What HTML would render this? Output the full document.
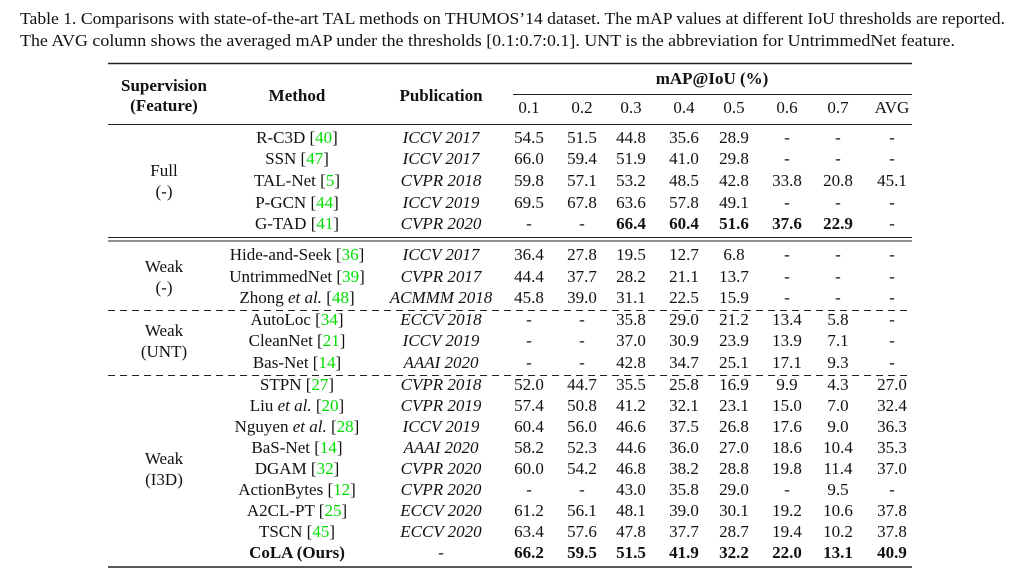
<!DOCTYPE html>
<html><head><meta charset="utf-8"><style>
html,body{margin:0;padding:0;background:#fff}
svg{display:block}
text{font-family:"Liberation Serif",serif;font-size:17px;fill:#111}
.b{font-weight:bold}
.i{font-style:italic}
.g{fill:#00dd00}
</style></head><body>
<svg width="1024" height="585" viewBox="0 0 1024 585" xmlns="http://www.w3.org/2000/svg">
<text x="20" y="24" style="font-size:17px" textLength="985" lengthAdjust="spacingAndGlyphs">Table 1. Comparisons with state-of-the-art TAL methods on THUMOS’14 dataset. The mAP values at different IoU thresholds are reported.</text>
<text x="20" y="46" style="font-size:17px" textLength="935" lengthAdjust="spacingAndGlyphs">The AVG column shows the averaged mAP under the thresholds [0.1:0.7:0.1]. UNT is the abbreviation for UntrimmedNet feature.</text>

<g stroke="#222" fill="none">
<line x1="108" y1="63.5" x2="912" y2="63.5" stroke-width="1.6"/>
<line x1="513" y1="94.5" x2="912" y2="94.5" stroke-width="1"/>
<line x1="108" y1="124.5" x2="912" y2="124.5" stroke-width="1"/>
<line x1="108" y1="237.5" x2="912" y2="237.5" stroke-width="1"/>
<line x1="108" y1="241" x2="912" y2="241" stroke-width="1"/>
<line x1="108" y1="310.5" x2="912" y2="310.5" stroke-width="1" stroke-dasharray="7,5"/>
<line x1="108" y1="375.5" x2="912" y2="375.5" stroke-width="1" stroke-dasharray="7,5"/>
<line x1="108" y1="567" x2="912" y2="567" stroke-width="1.6"/>
</g>

<g text-anchor="middle">
<text class="b" x="164" y="91">Supervision</text>
<text class="b" x="164" y="111">(Feature)</text>
<text class="b" x="297" y="101">Method</text>
<text class="b" x="441" y="101">Publication</text>
<text class="b" x="712" y="84">mAP@IoU (%)</text>
<text x="529" y="113">0.1</text><text x="582" y="113">0.2</text><text x="631" y="113">0.3</text><text x="684" y="113">0.4</text><text x="734" y="113">0.5</text><text x="787" y="113">0.6</text><text x="838" y="113">0.7</text><text x="892" y="113">AVG</text>

<text x="164" y="176">Full</text><text x="164" y="197">(-)</text>
<text x="164" y="272">Weak</text><text x="164" y="293">(-)</text>
<text x="164" y="336">Weak</text><text x="164" y="357">(UNT)</text>
<text x="164" y="464">Weak</text><text x="164" y="485">(I3D)</text>
</g>

<g text-anchor="middle">
<text x="297" y="143">R-C3D [<tspan class="g">40</tspan>]</text><text class="i" x="441" y="143">ICCV 2017</text>
<text x="529" y="143">54.5</text><text x="582" y="143">51.5</text><text x="631" y="143">44.8</text><text x="684" y="143">35.6</text><text x="734" y="143">28.9</text><text x="787" y="143">-</text><text x="838" y="143">-</text><text x="892" y="143">-</text>

<text x="297" y="164">SSN [<tspan class="g">47</tspan>]</text><text class="i" x="441" y="164">ICCV 2017</text>
<text x="529" y="164">66.0</text><text x="582" y="164">59.4</text><text x="631" y="164">51.9</text><text x="684" y="164">41.0</text><text x="734" y="164">29.8</text><text x="787" y="164">-</text><text x="838" y="164">-</text><text x="892" y="164">-</text>

<text x="297" y="186">TAL-Net [<tspan class="g">5</tspan>]</text><text class="i" x="441" y="186">CVPR 2018</text>
<text x="529" y="186">59.8</text><text x="582" y="186">57.1</text><text x="631" y="186">53.2</text><text x="684" y="186">48.5</text><text x="734" y="186">42.8</text><text x="787" y="186">33.8</text><text x="838" y="186">20.8</text><text x="892" y="186">45.1</text>

<text x="297" y="208">P-GCN [<tspan class="g">44</tspan>]</text><text class="i" x="441" y="208">ICCV 2019</text>
<text x="529" y="208">69.5</text><text x="582" y="208">67.8</text><text x="631" y="208">63.6</text><text x="684" y="208">57.8</text><text x="734" y="208">49.1</text><text x="787" y="208">-</text><text x="838" y="208">-</text><text x="892" y="208">-</text>

<text x="297" y="229">G-TAD [<tspan class="g">41</tspan>]</text><text class="i" x="441" y="229">CVPR 2020</text>
<text x="529" y="229">-</text><text x="582" y="229">-</text><text class="b" x="631" y="229">66.4</text><text class="b" x="684" y="229">60.4</text><text class="b" x="734" y="229">51.6</text><text class="b" x="787" y="229">37.6</text><text class="b" x="838" y="229">22.9</text><text x="892" y="229">-</text>

<text x="297" y="260">Hide-and-Seek [<tspan class="g">36</tspan>]</text><text class="i" x="441" y="260">ICCV 2017</text>
<text x="529" y="260">36.4</text><text x="582" y="260">27.8</text><text x="631" y="260">19.5</text><text x="684" y="260">12.7</text><text x="734" y="260">6.8</text><text x="787" y="260">-</text><text x="838" y="260">-</text><text x="892" y="260">-</text>

<text x="297" y="282">UntrimmedNet [<tspan class="g">39</tspan>]</text><text class="i" x="441" y="282">CVPR 2017</text>
<text x="529" y="282">44.4</text><text x="582" y="282">37.7</text><text x="631" y="282">28.2</text><text x="684" y="282">21.1</text><text x="734" y="282">13.7</text><text x="787" y="282">-</text><text x="838" y="282">-</text><text x="892" y="282">-</text>

<text x="297" y="303">Zhong <tspan class="i">et al.</tspan> [<tspan class="g">48</tspan>]</text><text class="i" x="441" y="303">ACMMM 2018</text>
<text x="529" y="303">45.8</text><text x="582" y="303">39.0</text><text x="631" y="303">31.1</text><text x="684" y="303">22.5</text><text x="734" y="303">15.9</text><text x="787" y="303">-</text><text x="838" y="303">-</text><text x="892" y="303">-</text>

<text x="297" y="325">AutoLoc [<tspan class="g">34</tspan>]</text><text class="i" x="441" y="325">ECCV 2018</text>
<text x="529" y="325">-</text><text x="582" y="325">-</text><text x="631" y="325">35.8</text><text x="684" y="325">29.0</text><text x="734" y="325">21.2</text><text x="787" y="325">13.4</text><text x="838" y="325">5.8</text><text x="892" y="325">-</text>

<text x="297" y="346">CleanNet [<tspan class="g">21</tspan>]</text><text class="i" x="441" y="346">ICCV 2019</text>
<text x="529" y="346">-</text><text x="582" y="346">-</text><text x="631" y="346">37.0</text><text x="684" y="346">30.9</text><text x="734" y="346">23.9</text><text x="787" y="346">13.9</text><text x="838" y="346">7.1</text><text x="892" y="346">-</text>

<text x="297" y="368">Bas-Net [<tspan class="g">14</tspan>]</text><text class="i" x="441" y="368">AAAI 2020</text>
<text x="529" y="368">-</text><text x="582" y="368">-</text><text x="631" y="368">42.8</text><text x="684" y="368">34.7</text><text x="734" y="368">25.1</text><text x="787" y="368">17.1</text><text x="838" y="368">9.3</text><text x="892" y="368">-</text>

<text x="297" y="390">STPN [<tspan class="g">27</tspan>]</text><text class="i" x="441" y="390">CVPR 2018</text>
<text x="529" y="390">52.0</text><text x="582" y="390">44.7</text><text x="631" y="390">35.5</text><text x="684" y="390">25.8</text><text x="734" y="390">16.9</text><text x="787" y="390">9.9</text><text x="838" y="390">4.3</text><text x="892" y="390">27.0</text>

<text x="297" y="411">Liu <tspan class="i">et al.</tspan> [<tspan class="g">20</tspan>]</text><text class="i" x="441" y="411">CVPR 2019</text>
<text x="529" y="411">57.4</text><text x="582" y="411">50.8</text><text x="631" y="411">41.2</text><text x="684" y="411">32.1</text><text x="734" y="411">23.1</text><text x="787" y="411">15.0</text><text x="838" y="411">7.0</text><text x="892" y="411">32.4</text>

<text x="297" y="432">Nguyen <tspan class="i">et al.</tspan> [<tspan class="g">28</tspan>]</text><text class="i" x="441" y="432">ICCV 2019</text>
<text x="529" y="432">60.4</text><text x="582" y="432">56.0</text><text x="631" y="432">46.6</text><text x="684" y="432">37.5</text><text x="734" y="432">26.8</text><text x="787" y="432">17.6</text><text x="838" y="432">9.0</text><text x="892" y="432">36.3</text>

<text x="297" y="453">BaS-Net [<tspan class="g">14</tspan>]</text><text class="i" x="441" y="453">AAAI 2020</text>
<text x="529" y="453">58.2</text><text x="582" y="453">52.3</text><text x="631" y="453">44.6</text><text x="684" y="453">36.0</text><text x="734" y="453">27.0</text><text x="787" y="453">18.6</text><text x="838" y="453">10.4</text><text x="892" y="453">35.3</text>

<text x="297" y="474">DGAM [<tspan class="g">32</tspan>]</text><text class="i" x="441" y="474">CVPR 2020</text>
<text x="529" y="474">60.0</text><text x="582" y="474">54.2</text><text x="631" y="474">46.8</text><text x="684" y="474">38.2</text><text x="734" y="474">28.8</text><text x="787" y="474">19.8</text><text x="838" y="474">11.4</text><text x="892" y="474">37.0</text>

<text x="297" y="495">ActionBytes [<tspan class="g">12</tspan>]</text><text class="i" x="441" y="495">CVPR 2020</text>
<text x="529" y="495">-</text><text x="582" y="495">-</text><text x="631" y="495">43.0</text><text x="684" y="495">35.8</text><text x="734" y="495">29.0</text><text x="787" y="495">-</text><text x="838" y="495">9.5</text><text x="892" y="495">-</text>

<text x="297" y="516">A2CL-PT [<tspan class="g">25</tspan>]</text><text class="i" x="441" y="516">ECCV 2020</text>
<text x="529" y="516">61.2</text><text x="582" y="516">56.1</text><text x="631" y="516">48.1</text><text x="684" y="516">39.0</text><text x="734" y="516">30.1</text><text x="787" y="516">19.2</text><text x="838" y="516">10.6</text><text x="892" y="516">37.8</text>

<text x="297" y="537">TSCN [<tspan class="g">45</tspan>]</text><text class="i" x="441" y="537">ECCV 2020</text>
<text x="529" y="537">63.4</text><text x="582" y="537">57.6</text><text x="631" y="537">47.8</text><text x="684" y="537">37.7</text><text x="734" y="537">28.7</text><text x="787" y="537">19.4</text><text x="838" y="537">10.2</text><text x="892" y="537">37.8</text>

<text class="b" x="297" y="558">CoLA (Ours)</text><text x="441" y="558">-</text>
<text class="b" x="529" y="558">66.2</text><text class="b" x="582" y="558">59.5</text><text class="b" x="631" y="558">51.5</text><text class="b" x="684" y="558">41.9</text><text class="b" x="734" y="558">32.2</text><text class="b" x="787" y="558">22.0</text><text class="b" x="838" y="558">13.1</text><text class="b" x="892" y="558">40.9</text>
</g>
</svg>
</body></html>
